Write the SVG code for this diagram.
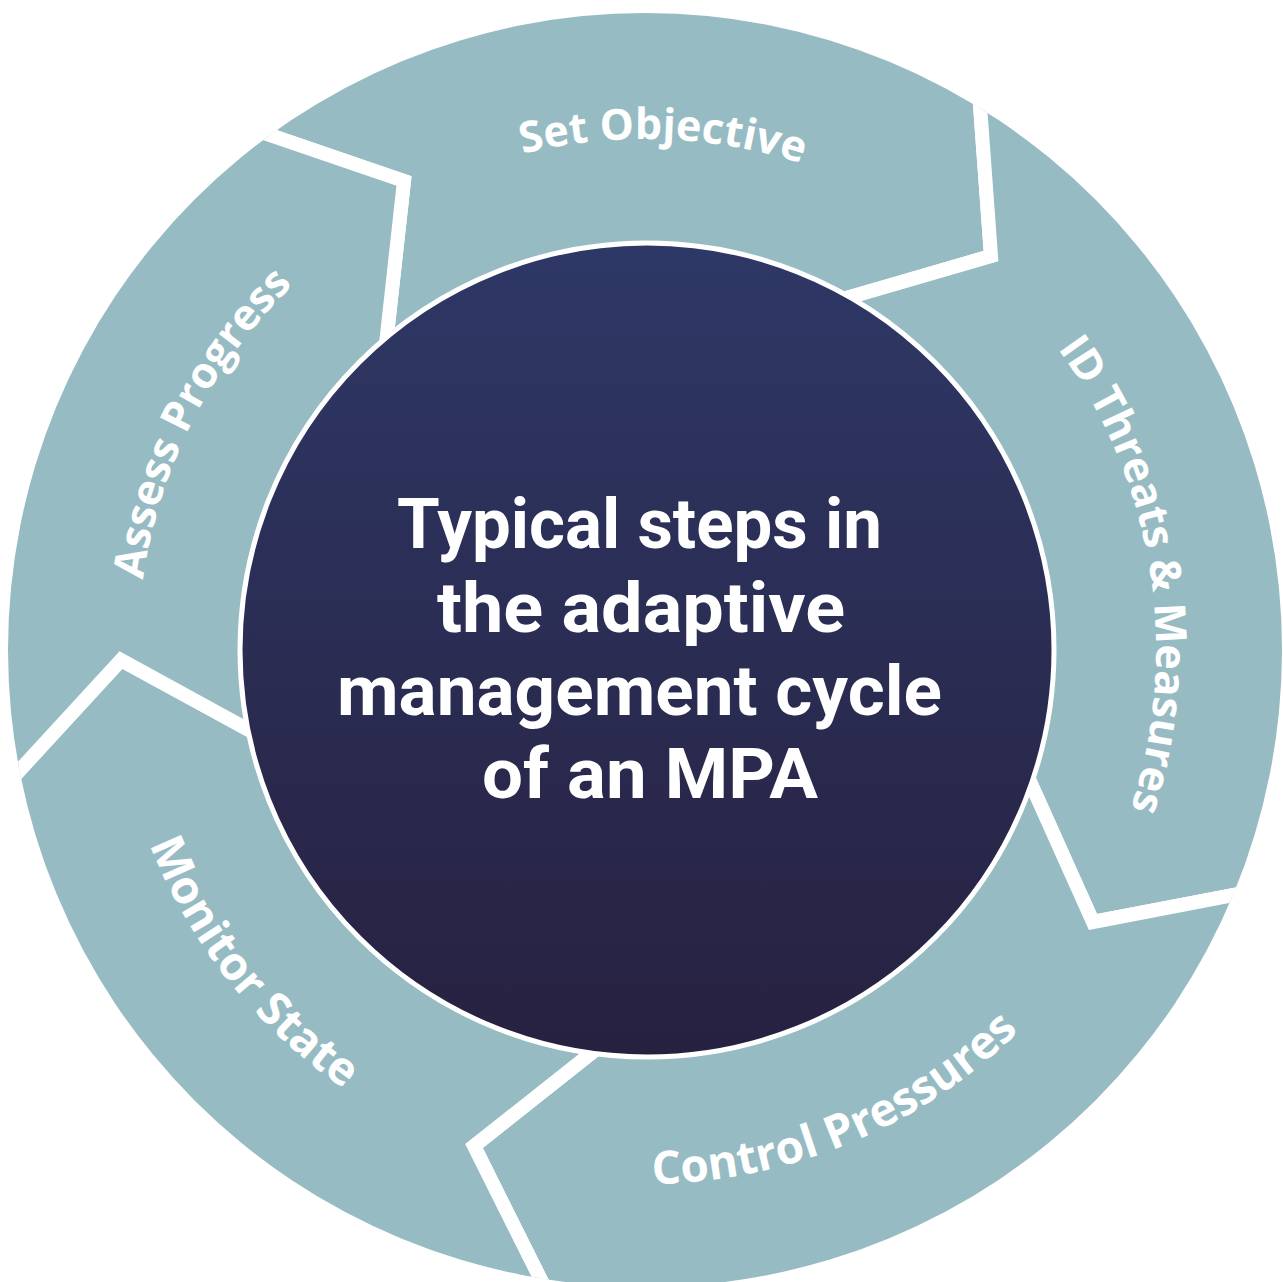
<svg xmlns="http://www.w3.org/2000/svg" width="1283" height="1282" viewBox="0 0 1283 1282">
  <style>
    .seg { fill: #96bbc3; stroke: #ffffff; stroke-width: 14; stroke-linejoin: miter; stroke-miterlimit: 10; }
    .lbl { fill: #ffffff; font-family: "Open Sans", "Noto Sans", "Liberation Sans", sans-serif; font-weight: 700; font-size: 43px; }
    .lbl2 { font-size: 46px; }
    .title { fill: #ffffff; font-family: Roboto, "Liberation Sans", sans-serif; font-weight: 700; font-size: 70px; text-anchor: middle; }
  </style>
  <defs>
    <clipPath id="ring">
      <circle cx="645" cy="650" r="637"/>
    </clipPath>
    <linearGradient id="core" x1="0" y1="0" x2="0" y2="1">
      <stop offset="0" stop-color="#2e3866"/>
      <stop offset="1" stop-color="#272140"/>
    </linearGradient>
    <path id="pSet" d="M211.7,379.2 A511,511 0 0 1 1096.2,410.1"/>
    <path id="pId" d="M828.1,172.9 A511,511 0 0 1 966.6,1047.1"/>
    <path id="pCtl" d="M323.6,1076.5 A534,534 0 0 0 1175,715.1"/>
    <path id="pMon" d="M148.3,459.3 A532,532 0 0 0 728.2,1175.5"/>
    <path id="pAss" d="M219.8,926.1 A507,507 0 0 1 618.5,143.7"/>
  </defs>
  <rect width="1283" height="1282" fill="#ffffff"/>
  <g clip-path="url(#ring)">
    <g id="set-objective">
      <path class="seg" d="M645,650 L382.6,374.8 L404,181 L213,115.5 L116,-78 L613.6,-249.5 L1122,-113 L975.6,45.2 L991,256 L818.6,306.2 Z"/>
    </g>
    <g id="id-threats">
      <path class="seg" d="M645,650 L818.6,306.2 L991,256 L975.6,45.2 L1122,-113 L1501,372 L1476,996 L1293,883.7 L1093,922 L1019.6,758.5 Z"/>
    </g>
    <g id="control-pressures">
      <path class="seg" d="M645,650 L1019.6,758.5 L1093,922 L1293,883.7 L1476,996 L1081,1437 L500,1538 L568.8,1335.7 L474,1146 L616.4,1033.2 Z"/>
    </g>
    <g id="monitor-state">
      <path class="seg" d="M645,650 L616.4,1033.2 L474,1146 L568.8,1335.7 L500,1538 L20,1297 L-238,822 L-20.6,814 L121,660 L280,747 Z"/>
    </g>
    <g id="assess-progress">
      <path class="seg" d="M645,650 L280,747 L121,660 L-20.6,814 L-238,822 L-118,173 L116,-78 L213,115.5 L404,181 L382.6,374.8 Z"/>
    </g>
  </g>
  <g id="labels">
    <text class="lbl"><textPath href="#pSet" startOffset="50%" text-anchor="middle">Set Objective</textPath></text>
    <text class="lbl"><textPath href="#pId" startOffset="50%" text-anchor="middle">ID Threats &amp; Measures</textPath></text>
    <text class="lbl lbl2"><textPath href="#pCtl" startOffset="49.7%" text-anchor="middle">Control Pressures</textPath></text>
    <text class="lbl lbl2"><textPath href="#pMon" startOffset="49.6%" text-anchor="middle">Monitor State</textPath></text>
    <text class="lbl"><textPath href="#pAss" startOffset="50%" text-anchor="middle">Assess Progress</textPath></text>
  </g>
  <g id="center">
    <circle cx="647" cy="650" r="407" fill="url(#core)" stroke="#ffffff" stroke-width="5"/>
    <text class="title" x="639.5" y="548" textLength="485" lengthAdjust="spacingAndGlyphs">Typical steps in</text>
    <text class="title" x="641" y="632" textLength="408" lengthAdjust="spacingAndGlyphs">the adaptive</text>
    <text class="title" x="639.5" y="715" textLength="605" lengthAdjust="spacingAndGlyphs">management cycle</text>
    <text class="title" x="650" y="798" textLength="336" lengthAdjust="spacingAndGlyphs">of an MPA</text>
  </g>
</svg>
